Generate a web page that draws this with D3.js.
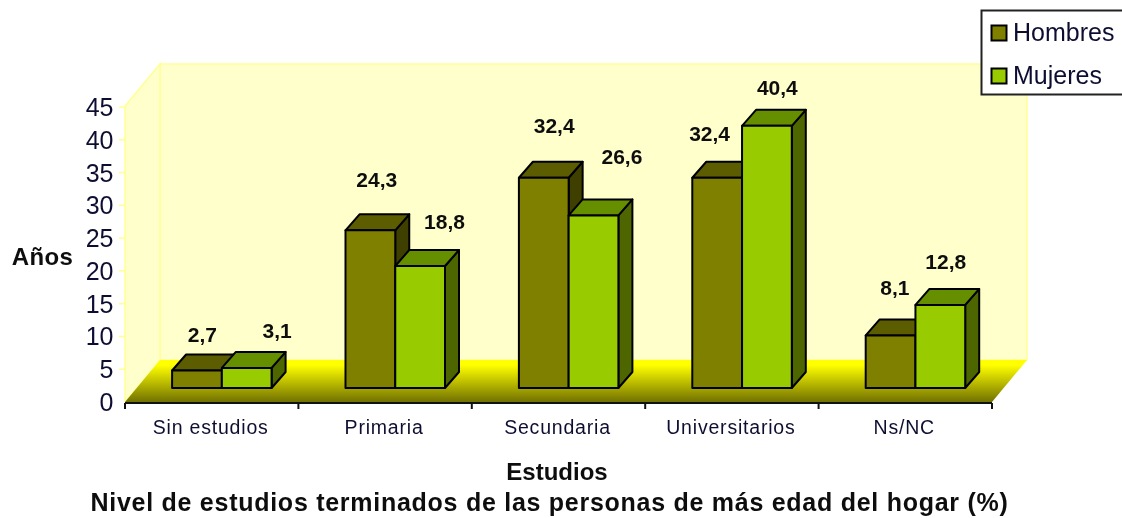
<!DOCTYPE html>
<html><head><meta charset="utf-8">
<script src="https://cdn.jsdelivr.net/npm/d3@7"></script>
<style>html,body{margin:0;padding:0;background:#fff;overflow:hidden}svg{display:block}text{font-family:"Liberation Sans",Arial,sans-serif;filter:url(#soft)}</style>
</head><body><svg id="c" width="1122" height="518"></svg>
<script>
const categories=["Sin estudios","Primaria","Secundaria","Universitarios","Ns/NC"];
const seriesNames=["Hombres","Mujeres"];
const hombres=[2.7,24.3,32.4,32.4,8.1];
const mujeres=[3.1,18.8,26.6,40.4,12.8];
const yTicks=[0,5,10,15,20,25,30,35,40,45];
const hombresColors={front:"#808000",top:"#5c5c00",side:"#3f3f00"};
const mujeresColors={front:"#99cc00",top:"#668f00",side:"#4d6600"};
// label nudges, layout only
const labelNudge=[[[6,-35],[31,-37]],[[7,-50],[25,-44]],[[11,-52],[29,-58]],[[-7,-44],[11,-38]],[[5,-47],[6,-43]]];

const svg=d3.select("#c");
const W=35,H=42,dX=14,dY=16;
const plotL=125,plotR=992,plotB=402,plotT=106,wallH=296;
const x=d3.scaleBand().domain(categories).range([plotL,plotR]);
const y=d3.scaleLinear().domain([0,45]).range([plotB,plotT+1]);
const yBar=d3.scaleLinear().domain([0,45]).range([388,96]);
const inner=d3.scaleBand().domain(seriesNames).range([0,99.5]);
const defs=svg.append("defs");
defs.append("filter").attr("id","soft").attr("x","-5%").attr("y","-20%").attr("width","110%").attr("height","140%")
  .append("feGaussianBlur").attr("stdDeviation",0.45);
const g=defs.append("linearGradient").attr("id","floor").attr("x1",0).attr("x2",0).attr("y1",0).attr("y2",1);
g.append("stop").attr("offset",0.12).attr("stop-color","#ffff00");
g.append("stop").attr("offset",1).attr("stop-color","#717100");
const poly=p=>p.map(d=>d.join(",")).join(" ");
const wall="#ffffcc",edge="#ffff99";
svg.append("polygon").attr("points",poly([[plotL+W,plotB-H-wallH],[plotR+W,plotB-H-wallH],[plotR+W,plotB-H],[plotL+W,plotB-H]])).attr("fill",wall).attr("stroke",edge).attr("stroke-width",1.6);
svg.append("polygon").attr("points",poly([[plotL,plotT],[plotL+W,plotB-H-wallH],[plotL+W,plotB-H],[plotL,plotB]])).attr("fill",wall).attr("stroke",edge).attr("stroke-width",1.6);
svg.append("polygon").attr("points",poly([[plotL,plotB],[plotL+W,plotB-H],[plotR+W,plotB-H],[plotR,plotB]])).attr("fill","url(#floor)");

// bars
const barX=d=>x(d.c)+x.bandwidth()/2-39.6+inner(seriesNames[d.s]);
const rows=categories.map((c,i)=>[{c,i,s:0,v:hombres[i],col:hombresColors},{c,i,s:1,v:mujeres[i],col:mujeresColors}]);
const bars=svg.append("g").attr("stroke","#000").attr("stroke-width",2).attr("stroke-linejoin","round");
rows.forEach(r=>{
  r.forEach(d=>{
    const x0=barX(d);
    const x1=x0+inner.bandwidth();
    const t=yBar(d.v),b=yBar(0);
    bars.append("polygon").attr("points",poly([[x1,t],[x1+dX,t-dY],[x1+dX,b-dY],[x1,b]])).attr("fill",d.col.side);
    bars.append("polygon").attr("points",poly([[x0,t],[x0+dX,t-dY],[x1+dX,t-dY],[x1,t]])).attr("fill",d.col.top);
    bars.append("rect").attr("x",x0).attr("y",t).attr("width",x1-x0).attr("height",b-t).attr("fill",d.col.front);
  });
});
// axes
const ax=svg.append("g").attr("stroke","#111").attr("stroke-width",2);
ax.append("line").attr("x1",plotL).attr("x2",plotR).attr("y1",plotB+1).attr("y2",plotB+1);
ax.selectAll(".t").data(d3.range(categories.length+1)).join("line").attr("x1",i=>plotL+i*x.step()).attr("x2",i=>plotL+i*x.step()).attr("y1",plotB+1).attr("y2",plotB+7);
svg.append("g").attr("stroke",edge).attr("stroke-width",1.6).selectAll("line").data(yTicks.slice(1)).join("line").attr("x1",plotL-6).attr("x2",plotL).attr("y1",d=>y(d)).attr("y2",d=>y(d));
const ink="#111133";
svg.append("g").selectAll("text").data(yTicks).join("text").attr("x",113.5).attr("y",d=>y(d)+9).attr("text-anchor","end").attr("font-size",25).attr("fill",ink).text(d=>d);
svg.append("g").selectAll("text").data(categories).join("text").attr("x",d=>x(d)+x.bandwidth()/2-1).attr("y",434).attr("text-anchor","middle").attr("font-size",19.5).attr("letter-spacing",0.8).attr("fill",ink).text(d=>d);
// value labels
const fmt=v=>String(v).replace(".",",");
rows.flat().forEach(d=>{
  const cx=barX(d)+inner.bandwidth()/2-0.6;
  const n=labelNudge[d.i][d.s];
  svg.append("text").attr("x",cx+n[0]).attr("y",yBar(d.v)+n[1]+7).attr("text-anchor","middle").attr("font-size",21).attr("font-weight","bold").attr("fill","#111").text(fmt(d.v));
});
// titles
const title=(t,xx,yy,s,ls)=>svg.append("text").attr("x",xx).attr("y",yy).attr("text-anchor","middle").attr("font-size",s).attr("letter-spacing",ls).attr("font-weight","bold").attr("fill","#111").text(t);
title("Años",42.5,265,24,0.4);
title("Estudios",557,480,24,0);
title("Nivel de estudios terminados de las personas de más edad del hogar (%)",549.5,511,25,0.73);
// legend
svg.append("rect").attr("x",981.5).attr("y",10.5).attr("width",145).attr("height",84).attr("fill","#fff").attr("stroke","#222").attr("stroke-width",2);
[hombresColors,mujeresColors].forEach((c,i)=>{
  const yy=[25,68][i];
  svg.append("rect").attr("x",991.5).attr("y",yy+.5).attr("width",15).attr("height",15).attr("fill",c.front).attr("stroke","#000").attr("stroke-width",2);
  svg.append("text").attr("x",1013).attr("y",yy+16).attr("font-size",25).attr("fill",ink).text(seriesNames[i]);
});
</script></body></html>
